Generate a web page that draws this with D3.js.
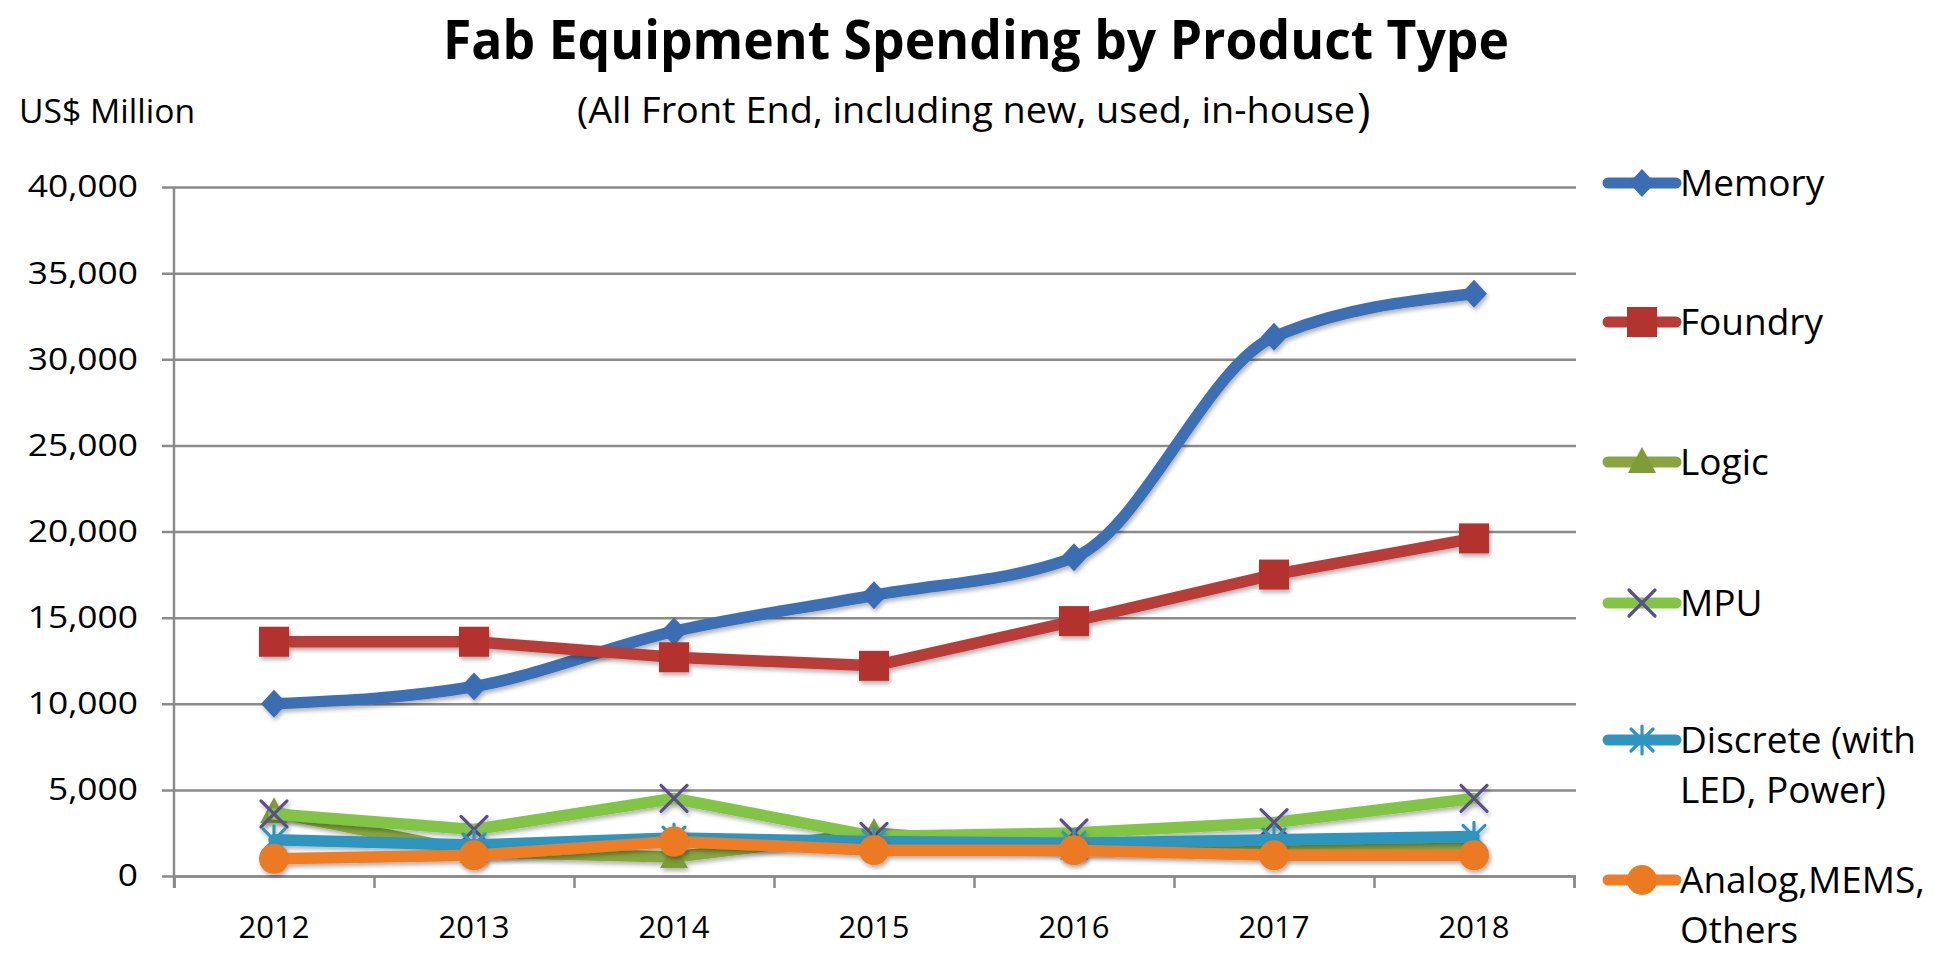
<!DOCTYPE html>
<html>
<head>
<meta charset="utf-8">
<script src="https://cdn.jsdelivr.net/npm/d3@7"></script>
<style>
  html, body { margin: 0; padding: 0; background: #ffffff; }
  svg { display: block; }
  text { font-family: "Open Sans", "Noto Sans", sans-serif; fill: #000; }
</style>
</head>
<body>
<svg id="chart" width="1943" height="954"></svg>
<script>
// ---- data (US$ million) ----
const years = ["2012", "2013", "2014", "2015", "2016", "2017", "2018"];
const memory   = [10000, 11000, 14200, 16300, 18500, 31300, 33800];
const foundry  = [13600, 13600, 12700, 12200, 14800, 17500, 19600];
const logic    = [3700, 1400, 1100, 2500, 1600, 1600, 1700];
const mpu      = [3600, 2700, 4500, 2300, 2500, 3100, 4500];
const discrete = [2100, 1800, 2200, 2000, 1900, 2100, 2300];
const analog   = [1000, 1200, 2000, 1500, 1500, 1200, 1200];
const yTicks = [0, 5000, 10000, 15000, 20000, 25000, 30000, 35000, 40000];

const series = [
  { name: ["Memory"], values: memory, line: "#3d6fb3", mark: "diamond", fill: "#3a6db3", smooth: true },
  { name: ["Foundry"], values: foundry, line: "#b83d39", mark: "square", fill: "#b3332f", smooth: false },
  { name: ["Logic"], values: logic, line: "#87a63f", mark: "triangle", fill: "#7c9c37", smooth: false },
  { name: ["MPU"], values: mpu, line: "#82c444", mark: "x", fill: "#5c4e8c", smooth: false },
  { name: ["Discrete (with", "LED, Power)"], values: discrete, line: "#2f95bf", mark: "asterisk", fill: "#2f95bf", smooth: false },
  { name: ["Analog,MEMS,", "Others"], values: analog, line: "#ee7d26", mark: "circle", fill: "#ec7a22", smooth: false }
];

// ---- layout ----
const plot = { left: 174, right: 1574, top: 187, bottom: 876 };
const svg = d3.select("#chart");

const x = d3.scaleBand().domain(years).range([plot.left, plot.right]);
const y = d3.scaleLinear().domain([0, 40000]).range([plot.bottom, plot.top]);
const cx = d => x(d) + x.bandwidth() / 2;

// widen text horizontally by a factor, keeping its anchor
function stretch(sel, k) {
  sel.each(function () {
    const w = this.getComputedTextLength();
    d3.select(this).attr("textLength", w * k).attr("lengthAdjust", "spacingAndGlyphs");
  });
}

// soft shadow under lines and markers
const defs = svg.append("defs");
const f = defs.append("filter").attr("id", "shadow")
  .attr("x", "-20%").attr("y", "-20%").attr("width", "140%").attr("height", "160%");
f.append("feDropShadow").attr("dx", 1.5).attr("dy", 3).attr("stdDeviation", 2.2)
  .attr("flood-color", "#000").attr("flood-opacity", 0.3);

// ---- title ----
svg.append("text")
  .attr("x", 976).attr("y", 59)
  .attr("text-anchor", "middle")
  .attr("font-size", 54).attr("font-weight", 700)
  .attr("textLength", 1066).attr("lengthAdjust", "spacingAndGlyphs")
  .text("Fab Equipment Spending by Product Type");

svg.append("text")
  .attr("x", 577).attr("y", 123)
  .attr("font-size", 36)
  .attr("textLength", 778).attr("lengthAdjust", "spacingAndGlyphs")
  .text("(All Front End, including new, used, in-house");
svg.append("text")
  .attr("x", 1357).attr("y", 126)
  .attr("font-size", 46)
  .text(")");

const unit = svg.append("text")
  .attr("x", 19).attr("y", 123)
  .attr("font-size", 33)
  .text("US$ Million");
stretch(unit, 1.02);

// ---- gridlines (with outer tick stubs) ----
const grid = svg.append("g")
  .attr("transform", `translate(${plot.left - 12},0)`)
  .call(d3.axisRight(y).tickValues(yTicks).tickSize(plot.right + 2 - (plot.left - 12)).tickFormat(""));
grid.select(".domain").remove();
grid.selectAll("line").attr("stroke", "#8a8a8a").attr("stroke-width", 2.5);

// ---- y axis labels ----
const yAxis = svg.append("g")
  .attr("transform", `translate(${plot.left},0)`)
  .call(d3.axisLeft(y).tickValues(yTicks).tickSize(0).tickPadding(36).tickFormat(d3.format(",")));
yAxis.select(".domain").remove();
yAxis.selectAll("text").attr("font-family", "Open Sans").attr("font-size", 31).attr("fill", "#000");
stretch(yAxis.selectAll("text"), 1.14);

// vertical axis line
svg.append("line")
  .attr("x1", plot.left).attr("x2", plot.left)
  .attr("y1", plot.top).attr("y2", plot.bottom + 12)
  .attr("stroke", "#8a8a8a").attr("stroke-width", 2.5);

// ---- x axis: boundary ticks + category labels ----
const bounds = d3.scaleLinear().domain([0, years.length]).range([plot.left, plot.right]);
const xTicks = svg.append("g")
  .attr("transform", `translate(0,${plot.bottom})`)
  .call(d3.axisBottom(bounds).ticks(years.length).tickSize(12).tickFormat(""));
xTicks.select(".domain").attr("stroke", "#8a8a8a").attr("stroke-width", 2.5);
xTicks.selectAll("line").attr("stroke", "#8a8a8a").attr("stroke-width", 2.5);

const xAxis = svg.append("g")
  .attr("transform", `translate(0,${plot.bottom})`)
  .call(d3.axisBottom(x).tickSize(0).tickPadding(40));
xAxis.select(".domain").remove();
xAxis.selectAll("text").attr("font-family", "Open Sans").attr("font-size", 31).attr("fill", "#000");

// ---- marker shapes ----
function markerPath(type) {
  const p = d3.path();
  if (type === "diamond") {
    p.moveTo(0, -14); p.lineTo(13, 0); p.lineTo(0, 14); p.lineTo(-13, 0); p.closePath();
  } else if (type === "square") {
    p.rect(-15, -15, 30, 30);
  } else if (type === "triangle") {
    p.moveTo(0, -15); p.lineTo(14, 11); p.lineTo(-14, 11); p.closePath();
  } else if (type === "circle") {
    p.arc(0, 0, 15, 0, 2 * Math.PI);
  } else if (type === "x") {
    p.moveTo(-13, -13); p.lineTo(13, 13); p.moveTo(13, -13); p.lineTo(-13, 13);
  } else if (type === "asterisk") {
    p.moveTo(-11, -11); p.lineTo(11, 11); p.moveTo(11, -11); p.lineTo(-11, 11);
    p.moveTo(0, -14); p.lineTo(0, 14);
  }
  return p.toString();
}
const isStroke = t => t === "x" || t === "asterisk";

function drawMarker(g, s, px, py) {
  const m = g.append("path")
    .attr("d", markerPath(s.mark))
    .attr("transform", `translate(${px},${py})`);
  if (isStroke(s.mark)) {
    m.attr("fill", "none").attr("stroke", s.fill).attr("stroke-width", 3.2).attr("stroke-linecap", "round");
  } else {
    m.attr("fill", s.fill).attr("stroke", "none");
  }
}

// ---- series ----
const lineSmooth = d3.line().x((d, i) => cx(years[i])).y(d => y(d)).curve(d3.curveMonotoneX);
const lineStraight = d3.line().x((d, i) => cx(years[i])).y(d => y(d));

series.forEach(s => {
  const g = svg.append("g").attr("filter", "url(#shadow)");
  g.append("path")
    .attr("d", (s.smooth ? lineSmooth : lineStraight)(s.values))
    .attr("fill", "none")
    .attr("stroke", s.line)
    .attr("stroke-width", 11.5)
    .attr("stroke-linejoin", "round")
    .attr("stroke-linecap", "round");
  s.values.forEach((v, i) => drawMarker(g, s, cx(years[i]), y(v)));
});

// ---- legend ----
const legendY = [183, 322, 462, 603, 740, 880];
const legend = svg.append("g");
series.forEach((s, i) => {
  const ly = legendY[i];
  const g = legend.append("g");
  g.append("line")
    .attr("x1", 1608).attr("x2", 1676).attr("y1", ly).attr("y2", ly)
    .attr("stroke", s.line).attr("stroke-width", 11).attr("stroke-linecap", "round");
  drawMarker(g, s, 1642, ly);
  const t = legend.append("text")
    .attr("x", 1680).attr("y", ly + 13)
    .attr("font-size", 37);
  s.name.forEach((line, j) => {
    t.append("tspan").attr("x", 1680).attr("dy", j === 0 ? 0 : 50).text(line);
  });
});
</script>
</body>
</html>
